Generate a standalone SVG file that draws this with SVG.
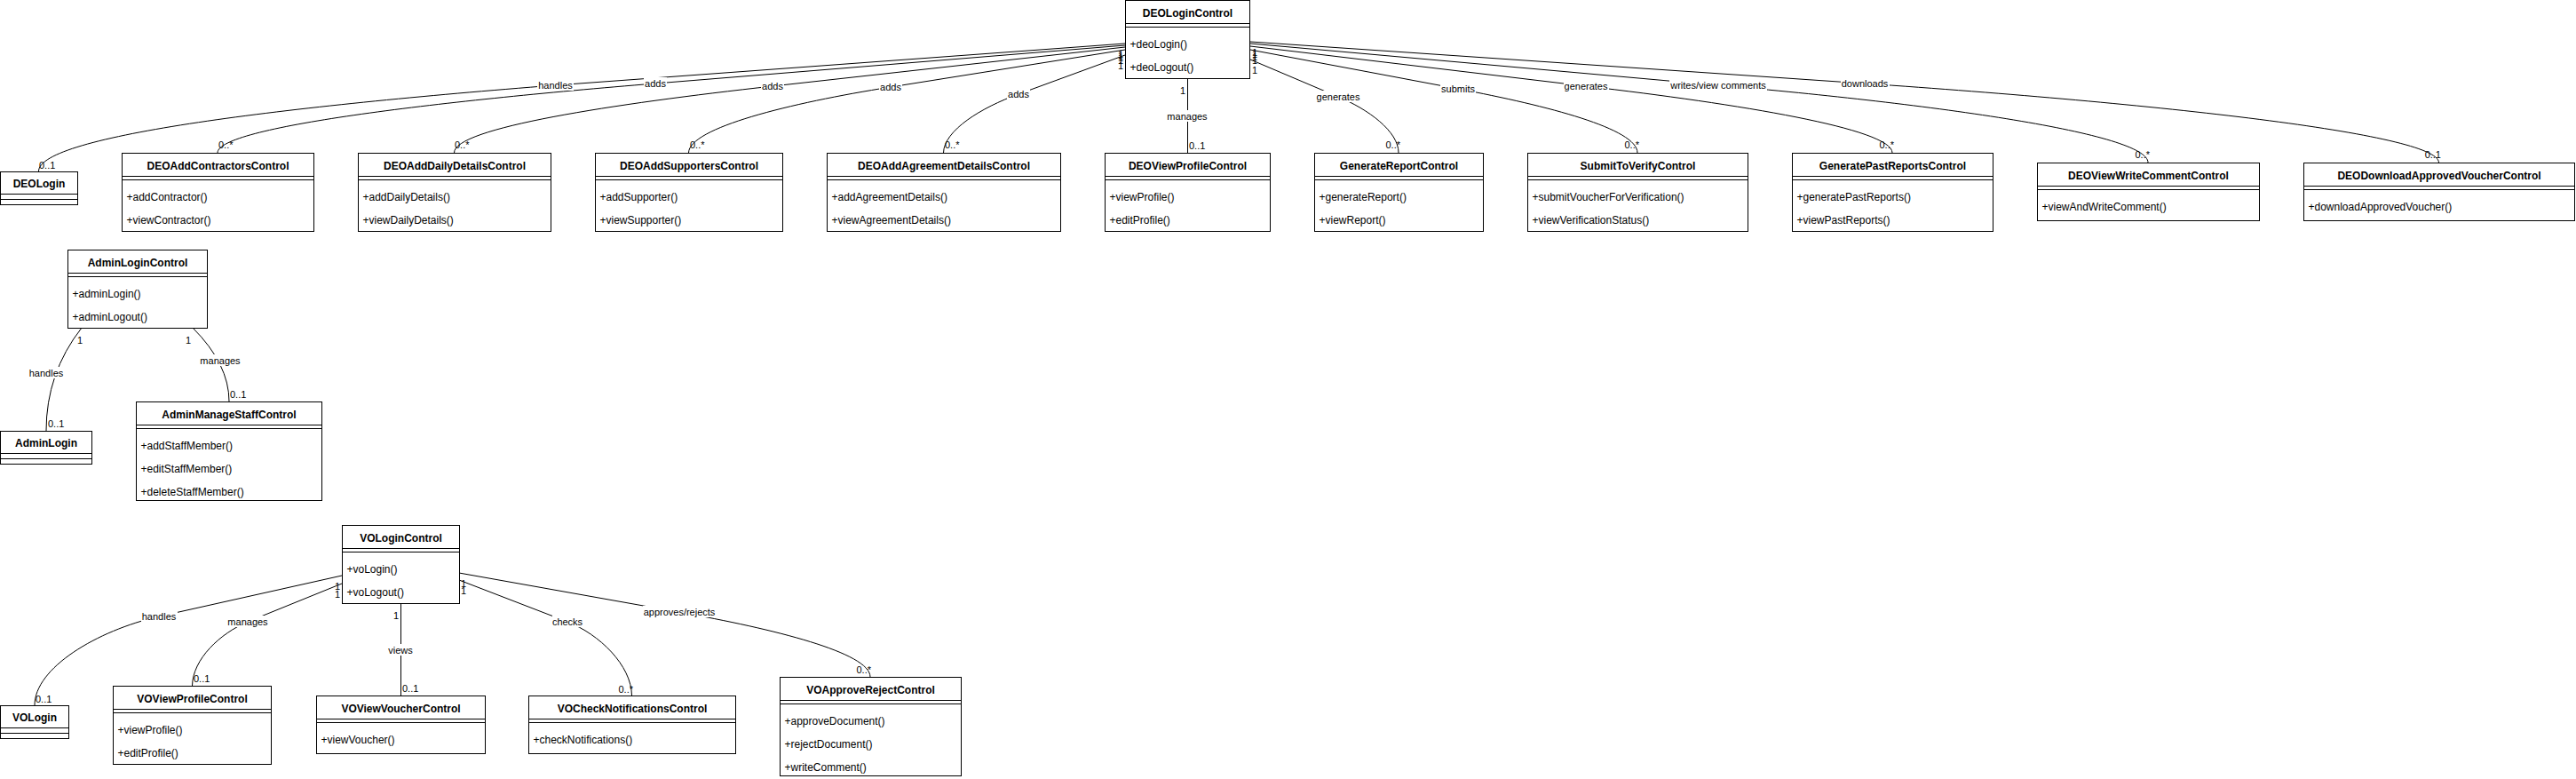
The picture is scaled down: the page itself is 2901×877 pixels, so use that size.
<svg xmlns="http://www.w3.org/2000/svg" width="2901" height="877" viewBox="0 0 2901 877">
<style>
.bx{fill:#fff;stroke:#000;stroke-width:1}
.sp{stroke:#000;stroke-width:1}
.t{font-family:"Liberation Sans",Arial,sans-serif;font-size:12px;font-weight:bold;text-anchor:middle;fill:#000}
.m{font-family:"Liberation Sans",Arial,sans-serif;font-size:12px;fill:#000}
.e{fill:none;stroke:#000;stroke-width:1}
.lb{fill:#fff;stroke:none}
.l{font-family:"Liberation Sans",Arial,sans-serif;font-size:11px;text-anchor:middle;fill:#000}
.mu{font-family:"Liberation Sans",Arial,sans-serif;font-size:11px;fill:#000}
.en{text-anchor:end}
</style>
<rect width="2901" height="877" fill="#fff"/>
<g id="connectors">
<path class="e" d="M1267,49 L625,96 C330,119 43,152 43.5,193"/>
<path class="e" d="M1267,51 L738,94 C491,114 245,143 245,172"/>
<path class="e" d="M1267,53 L870,97 C690,117 511,144 511.5,172"/>
<path class="e" d="M1267,56 L1003,98 C889,116 776,144 775.5,172"/>
<path class="e" d="M1267,62 L1147,106 C1105,121 1063,147 1062.5,172"/>
<path class="e" d="M1337.5,88 L1337.5,172"/>
<path class="e" d="M1408,67 L1507,109 C1541,123 1575,148 1575,172"/>
<path class="e" d="M1408,56 L1642,100 C1743,119 1844,145 1844,172"/>
<path class="e" d="M1408,52 L1786,97 C1958,117 2131,145 2131,172"/>
<path class="e" d="M1408,49 L1935,96 C2177,117 2419,150 2419,183"/>
<path class="e" d="M1408,47 L2100,94 C2423,116 2746,150 2746.5,183"/>
<path class="e" d="M92,369 Q52,420 52,485"/>
<path class="e" d="M217,369 Q258,410 258,452"/>
<path class="e" d="M385,648 L179,694 C109,710 39,752 39,794"/>
<path class="e" d="M385,657 L279,700 C248,713 217,742 216.5,772"/>
<path class="e" d="M451.5,679 L451.5,783"/>
<path class="e" d="M517,653 L639,700 C675,714 711,749 711.5,783"/>
<path class="e" d="M517,645 L764,689 C872,708 980,735 980,762"/>
<g>
<rect class="lb" x="605" y="89" width="41" height="13"/><text class="l" x="625.5" y="100">handles</text>
<rect class="lb" x="725" y="87" width="26" height="13"/><text class="l" x="738" y="98">adds</text>
<rect class="lb" x="857" y="90" width="26" height="13"/><text class="l" x="870" y="101">adds</text>
<rect class="lb" x="990" y="91" width="26" height="13"/><text class="l" x="1003" y="102">adds</text>
<rect class="lb" x="1134" y="99" width="26" height="13"/><text class="l" x="1147" y="110">adds</text>
<rect class="lb" x="1314" y="124" width="47" height="13"/><text class="l" x="1337" y="135">manages</text>
<rect class="lb" x="1482" y="102" width="51" height="13"/><text class="l" x="1507" y="113">generates</text>
<rect class="lb" x="1622" y="93" width="40" height="13"/><text class="l" x="1642" y="104">submits</text>
<rect class="lb" x="1761" y="90" width="51" height="13"/><text class="l" x="1786" y="101">generates</text>
<rect class="lb" x="1880" y="89" width="110" height="13"/><text class="l" x="1935" y="100">writes/view comments</text>
<rect class="lb" x="2073" y="87" width="55" height="13"/><text class="l" x="2100" y="98">downloads</text>
<rect class="lb" x="32" y="413" width="41" height="13"/><text class="l" x="52" y="424">handles</text>
<rect class="lb" x="225" y="399" width="47" height="13"/><text class="l" x="248" y="410">manages</text>
<rect class="lb" x="159" y="687" width="41" height="13"/><text class="l" x="179" y="698">handles</text>
<rect class="lb" x="256" y="693" width="47" height="13"/><text class="l" x="279" y="704">manages</text>
<rect class="lb" x="437" y="725" width="29" height="13"/><text class="l" x="451" y="736">views</text>
<rect class="lb" x="622" y="693" width="36" height="13"/><text class="l" x="639" y="704">checks</text>
<rect class="lb" x="724" y="682" width="82" height="13"/><text class="l" x="765" y="693">approves/rejects</text>
</g>
<g>
<text class="mu en" x="1265" y="65">1</text>
<text class="mu en" x="1265" y="67">1</text>
<text class="mu en" x="1265" y="69">1</text>
<text class="mu en" x="1265" y="72">1</text>
<text class="mu en" x="1265" y="78">1</text>
<text class="mu" x="1410" y="63">1</text>
<text class="mu" x="1410" y="65">1</text>
<text class="mu" x="1410" y="68">1</text>
<text class="mu" x="1410" y="72">1</text>
<text class="mu" x="1410" y="83">1</text>
<text class="mu en" x="1335" y="106">1</text>
<text class="mu" x="1339" y="168">0..1</text>
<text class="mu" x="44" y="190">0..1</text>
<text class="mu" x="246" y="167">0..*</text>
<text class="mu" x="512" y="167">0..*</text>
<text class="mu" x="777" y="167">0..*</text>
<text class="mu" x="1064" y="167">0..*</text>
<text class="mu en" x="1577" y="167">0..*</text>
<text class="mu en" x="1846" y="167">0..*</text>
<text class="mu en" x="2133" y="167">0..*</text>
<text class="mu en" x="2421" y="178">0..*</text>
<text class="mu en" x="2749" y="178">0..1</text>
<text class="mu" x="87" y="387">1</text>
<text class="mu" x="54" y="481">0..1</text>
<text class="mu en" x="215" y="387">1</text>
<text class="mu" x="259" y="448">0..1</text>
<text class="mu en" x="383" y="664">1</text>
<text class="mu en" x="383" y="673">1</text>
<text class="mu" x="40" y="791">0..1</text>
<text class="mu" x="218" y="768">0..1</text>
<text class="mu en" x="449" y="697">1</text>
<text class="mu" x="453" y="779">0..1</text>
<text class="mu" x="519" y="669">1</text>
<text class="mu en" x="713" y="780">0..*</text>
<text class="mu" x="519" y="661">1</text>
<text class="mu en" x="981" y="758">0..*</text>
</g>
</g>
<g id="DEOLoginControl" transform="translate(1267.5,0.5)"><rect class="bx" width="140" height="88"/><line class="sp" x1="0" y1="26" x2="140" y2="26"/><line class="sp" x1="0" y1="30" x2="140" y2="30"/><text class="t" x="70" y="18">DEOLoginControl</text><text class="m" x="5" y="53">+deoLogin()</text><text class="m" x="5" y="79">+deoLogout()</text></g>
<g id="DEOLogin" transform="translate(0.5,193.5)"><rect class="bx" width="87" height="37"/><line class="sp" x1="0" y1="25" x2="87" y2="25"/><line class="sp" x1="0" y1="31" x2="87" y2="31"/><text class="t" x="43.5" y="17.5">DEOLogin</text></g>
<g id="DEOAddContractorsControl" transform="translate(137.5,172.5)"><rect class="bx" width="216" height="88"/><line class="sp" x1="0" y1="26" x2="216" y2="26"/><line class="sp" x1="0" y1="30" x2="216" y2="30"/><text class="t" x="108" y="18">DEOAddContractorsControl</text><text class="m" x="5" y="53">+addContractor()</text><text class="m" x="5" y="79">+viewContractor()</text></g>
<g id="DEOAddDailyDetailsControl" transform="translate(403.5,172.5)"><rect class="bx" width="217" height="88"/><line class="sp" x1="0" y1="26" x2="217" y2="26"/><line class="sp" x1="0" y1="30" x2="217" y2="30"/><text class="t" x="108.5" y="18">DEOAddDailyDetailsControl</text><text class="m" x="5" y="53">+addDailyDetails()</text><text class="m" x="5" y="79">+viewDailyDetails()</text></g>
<g id="DEOAddSupportersControl" transform="translate(670.5,172.5)"><rect class="bx" width="211" height="88"/><line class="sp" x1="0" y1="26" x2="211" y2="26"/><line class="sp" x1="0" y1="30" x2="211" y2="30"/><text class="t" x="105.5" y="18">DEOAddSupportersControl</text><text class="m" x="5" y="53">+addSupporter()</text><text class="m" x="5" y="79">+viewSupporter()</text></g>
<g id="DEOAddAgreementDetailsControl" transform="translate(931.5,172.5)"><rect class="bx" width="263" height="88"/><line class="sp" x1="0" y1="26" x2="263" y2="26"/><line class="sp" x1="0" y1="30" x2="263" y2="30"/><text class="t" x="131.5" y="18">DEOAddAgreementDetailsControl</text><text class="m" x="5" y="53">+addAgreementDetails()</text><text class="m" x="5" y="79">+viewAgreementDetails()</text></g>
<g id="DEOViewProfileControl" transform="translate(1244.5,172.5)"><rect class="bx" width="186" height="88"/><line class="sp" x1="0" y1="26" x2="186" y2="26"/><line class="sp" x1="0" y1="30" x2="186" y2="30"/><text class="t" x="93" y="18">DEOViewProfileControl</text><text class="m" x="5" y="53">+viewProfile()</text><text class="m" x="5" y="79">+editProfile()</text></g>
<g id="GenerateReportControl" transform="translate(1480.5,172.5)"><rect class="bx" width="190" height="88"/><line class="sp" x1="0" y1="26" x2="190" y2="26"/><line class="sp" x1="0" y1="30" x2="190" y2="30"/><text class="t" x="95" y="18">GenerateReportControl</text><text class="m" x="5" y="53">+generateReport()</text><text class="m" x="5" y="79">+viewReport()</text></g>
<g id="SubmitToVerifyControl" transform="translate(1720.5,172.5)"><rect class="bx" width="248" height="88"/><line class="sp" x1="0" y1="26" x2="248" y2="26"/><line class="sp" x1="0" y1="30" x2="248" y2="30"/><text class="t" x="124" y="18">SubmitToVerifyControl</text><text class="m" x="5" y="53">+submitVoucherForVerification()</text><text class="m" x="5" y="79">+viewVerificationStatus()</text></g>
<g id="GeneratePastReportsControl" transform="translate(2018.5,172.5)"><rect class="bx" width="226" height="88"/><line class="sp" x1="0" y1="26" x2="226" y2="26"/><line class="sp" x1="0" y1="30" x2="226" y2="30"/><text class="t" x="113" y="18">GeneratePastReportsControl</text><text class="m" x="5" y="53">+generatePastReports()</text><text class="m" x="5" y="79">+viewPastReports()</text></g>
<g id="DEOViewWriteCommentControl" transform="translate(2294.5,183.5)"><rect class="bx" width="250" height="65"/><line class="sp" x1="0" y1="26" x2="250" y2="26"/><line class="sp" x1="0" y1="30" x2="250" y2="30"/><text class="t" x="125" y="18">DEOViewWriteCommentControl</text><text class="m" x="5" y="53">+viewAndWriteComment()</text></g>
<g id="DEODownloadApprovedVoucherControl" transform="translate(2594.5,183.5)"><rect class="bx" width="305" height="65"/><line class="sp" x1="0" y1="26" x2="305" y2="26"/><line class="sp" x1="0" y1="30" x2="305" y2="30"/><text class="t" x="152.5" y="18">DEODownloadApprovedVoucherControl</text><text class="m" x="5" y="53">+downloadApprovedVoucher()</text></g>
<g id="AdminLoginControl" transform="translate(76.5,281.5)"><rect class="bx" width="157" height="88"/><line class="sp" x1="0" y1="26" x2="157" y2="26"/><line class="sp" x1="0" y1="30" x2="157" y2="30"/><text class="t" x="78.5" y="18">AdminLoginControl</text><text class="m" x="5" y="53">+adminLogin()</text><text class="m" x="5" y="79">+adminLogout()</text></g>
<g id="AdminLogin" transform="translate(0.5,485.5)"><rect class="bx" width="103" height="37"/><line class="sp" x1="0" y1="25" x2="103" y2="25"/><line class="sp" x1="0" y1="31" x2="103" y2="31"/><text class="t" x="51.5" y="17.5">AdminLogin</text></g>
<g id="AdminManageStaffControl" transform="translate(153.5,452.5)"><rect class="bx" width="209" height="111"/><line class="sp" x1="0" y1="26" x2="209" y2="26"/><line class="sp" x1="0" y1="30" x2="209" y2="30"/><text class="t" x="104.5" y="18">AdminManageStaffControl</text><text class="m" x="5" y="53">+addStaffMember()</text><text class="m" x="5" y="79">+editStaffMember()</text><text class="m" x="5" y="105">+deleteStaffMember()</text></g>
<g id="VOLoginControl" transform="translate(385.5,591.5)"><rect class="bx" width="132" height="88"/><line class="sp" x1="0" y1="26" x2="132" y2="26"/><line class="sp" x1="0" y1="30" x2="132" y2="30"/><text class="t" x="66" y="18">VOLoginControl</text><text class="m" x="5" y="53">+voLogin()</text><text class="m" x="5" y="79">+voLogout()</text></g>
<g id="VOLogin" transform="translate(0.5,794.5)"><rect class="bx" width="77" height="37"/><line class="sp" x1="0" y1="25" x2="77" y2="25"/><line class="sp" x1="0" y1="31" x2="77" y2="31"/><text class="t" x="38.5" y="17.5">VOLogin</text></g>
<g id="VOViewProfileControl" transform="translate(127.5,772.5)"><rect class="bx" width="178" height="88"/><line class="sp" x1="0" y1="26" x2="178" y2="26"/><line class="sp" x1="0" y1="30" x2="178" y2="30"/><text class="t" x="89" y="18">VOViewProfileControl</text><text class="m" x="5" y="53">+viewProfile()</text><text class="m" x="5" y="79">+editProfile()</text></g>
<g id="VOViewVoucherControl" transform="translate(356.5,783.5)"><rect class="bx" width="190" height="65"/><line class="sp" x1="0" y1="26" x2="190" y2="26"/><line class="sp" x1="0" y1="30" x2="190" y2="30"/><text class="t" x="95" y="18">VOViewVoucherControl</text><text class="m" x="5" y="53">+viewVoucher()</text></g>
<g id="VOCheckNotificationsControl" transform="translate(595.5,783.5)"><rect class="bx" width="233" height="65"/><line class="sp" x1="0" y1="26" x2="233" y2="26"/><line class="sp" x1="0" y1="30" x2="233" y2="30"/><text class="t" x="116.5" y="18">VOCheckNotificationsControl</text><text class="m" x="5" y="53">+checkNotifications()</text></g>
<g id="VOApproveRejectControl" transform="translate(878.5,762.5)"><rect class="bx" width="204" height="111"/><line class="sp" x1="0" y1="26" x2="204" y2="26"/><line class="sp" x1="0" y1="30" x2="204" y2="30"/><text class="t" x="102" y="18">VOApproveRejectControl</text><text class="m" x="5" y="53">+approveDocument()</text><text class="m" x="5" y="79">+rejectDocument()</text><text class="m" x="5" y="105">+writeComment()</text></g>
</svg>
